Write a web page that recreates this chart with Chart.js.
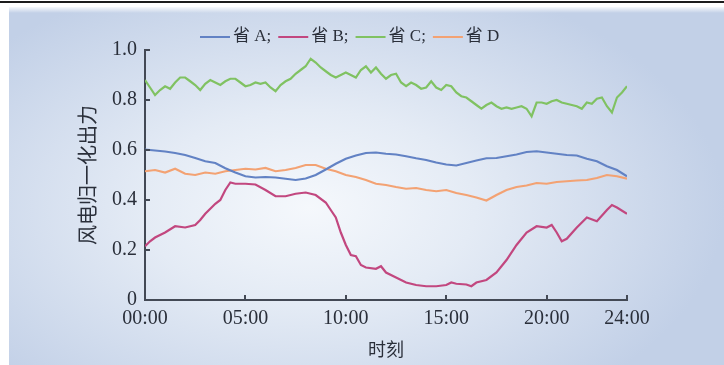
<!DOCTYPE html>
<html>
<head>
<meta charset="utf-8">
<script src="https://cdn.jsdelivr.net/npm/chart.js@4"></script>
<style>
  html, body { margin: 0; padding: 0; background: #fff; }
  #frame { position: relative; width: 724px; height: 365px; overflow: hidden; background: #fff; }
  #rule { position: absolute; left: 0; top: 1px; width: 724px; height: 2px; background: #1c1c1c; }
  #panel {
    position: absolute; left: 9px; top: 7px; right: 0; bottom: 0;
    background:
      linear-gradient(to bottom, rgba(255,255,255,0.85) 0px, rgba(255,255,255,0) 6px),
      radial-gradient(ellipse 58% 68% at 42% 56%, #f5f8fc 0%, #e4ebf5 40%, #c2d0e7 100%);
  }
  canvas { position: absolute; left: 0; top: 0; }
</style>
</head>
<body>
<div id="frame">
  <div id="rule"></div>
  <div id="panel"></div>
  <canvas id="chart" width="724" height="365"></canvas>
</div>
<script>
// Normalised wind power output of four provinces over one day (hours 0-24)
const seriesNames = ['省 A;', '省 B;', '省 C;', '省 D'];
const seriesColors = ['#6282c4', '#c2477f', '#80c262', '#f3a273'];

const hoursA = [0, 0.5, 1, 1.5, 2, 2.5, 3, 3.5, 4, 4.5, 5, 5.5, 6, 6.5, 7, 7.5, 8, 8.5, 9, 9.5, 10, 10.5, 11, 11.5, 12, 12.5, 13, 13.5, 14, 14.5, 15, 15.5, 16, 16.5, 17, 17.5, 18, 18.5, 19, 19.5, 20, 20.5, 21, 21.5, 22, 22.5, 23, 23.5, 24];
const provA = [0.602, 0.598, 0.594, 0.588, 0.58, 0.568, 0.555, 0.548, 0.527, 0.51, 0.495, 0.49, 0.492, 0.49, 0.485, 0.48, 0.486, 0.5, 0.522, 0.545, 0.565, 0.578, 0.588, 0.59, 0.585, 0.582, 0.575, 0.567, 0.56, 0.55, 0.542, 0.538, 0.548, 0.558, 0.567, 0.568, 0.575, 0.582, 0.592, 0.595, 0.59, 0.585, 0.58, 0.578, 0.565, 0.555, 0.535, 0.52, 0.495];

const hoursB = [0, 0.25, 0.5, 1, 1.5, 2, 2.5, 2.75, 3, 3.5, 3.75, 4, 4.25, 4.5, 5, 5.5, 6, 6.5, 7, 7.5, 8, 8.5, 9, 9.25, 9.5, 9.75, 10, 10.25, 10.5, 10.75, 11, 11.5, 11.75, 12, 12.5, 13, 13.5, 14, 14.5, 15, 15.25, 15.5, 16, 16.25, 16.5, 17, 17.5, 18, 18.5, 19, 19.5, 20, 20.25, 20.5, 20.75, 21, 21.5, 22, 22.5, 23, 23.25, 23.5, 24];
const provB = [0.215, 0.235, 0.25, 0.27, 0.295, 0.29, 0.3, 0.32, 0.345, 0.385, 0.4, 0.44, 0.47, 0.465, 0.465, 0.462, 0.44, 0.415, 0.415, 0.425, 0.43, 0.42, 0.39, 0.36, 0.33, 0.27, 0.22, 0.18, 0.175, 0.14, 0.13, 0.125, 0.135, 0.11, 0.09, 0.07, 0.06, 0.055, 0.055, 0.06, 0.07, 0.065, 0.062, 0.055, 0.07, 0.08, 0.11, 0.16, 0.22, 0.27, 0.295, 0.29, 0.3, 0.27, 0.235, 0.245, 0.29, 0.33, 0.315, 0.36, 0.38, 0.37, 0.345];

const hoursC = [0, 0.25, 0.5, 0.75, 1, 1.25, 1.5, 1.75, 2, 2.25, 2.5, 2.75, 3, 3.25, 3.5, 3.75, 4, 4.25, 4.5, 4.75, 5, 5.25, 5.5, 5.75, 6, 6.25, 6.5, 6.75, 7, 7.25, 7.5, 7.75, 8, 8.25, 8.5, 8.75, 9, 9.25, 9.5, 9.75, 10, 10.25, 10.5, 10.75, 11, 11.25, 11.5, 11.75, 12, 12.25, 12.5, 12.75, 13, 13.25, 13.5, 13.75, 14, 14.25, 14.5, 14.75, 15, 15.25, 15.5, 15.75, 16, 16.25, 16.5, 16.75, 17, 17.25, 17.5, 17.75, 18, 18.25, 18.5, 18.75, 19, 19.25, 19.5, 19.75, 20, 20.25, 20.5, 20.75, 21, 21.25, 21.5, 21.75, 22, 22.25, 22.5, 22.75, 23, 23.25, 23.5, 23.75, 24];
const provC = [0.88, 0.85, 0.82, 0.84, 0.855, 0.845, 0.87, 0.89, 0.89, 0.875, 0.86, 0.84, 0.865, 0.88, 0.87, 0.86, 0.875, 0.885, 0.885, 0.87, 0.855, 0.86, 0.87, 0.865, 0.87, 0.85, 0.835, 0.86, 0.875, 0.885, 0.905, 0.92, 0.935, 0.965, 0.95, 0.93, 0.915, 0.9, 0.89, 0.9, 0.91, 0.9, 0.89, 0.92, 0.935, 0.91, 0.93, 0.905, 0.885, 0.9, 0.905, 0.87, 0.855, 0.87, 0.86, 0.845, 0.85, 0.875, 0.85, 0.84, 0.86, 0.855, 0.83, 0.815, 0.81, 0.795, 0.78, 0.765, 0.78, 0.79, 0.775, 0.765, 0.77, 0.765, 0.77, 0.775, 0.765, 0.735, 0.79, 0.79, 0.785, 0.795, 0.8, 0.79, 0.785, 0.78, 0.775, 0.765, 0.79, 0.785, 0.805, 0.81, 0.775, 0.75, 0.81, 0.83, 0.855];

const hoursD = [0, 0.5, 1, 1.5, 2, 2.5, 3, 3.5, 4, 4.5, 5, 5.5, 6, 6.5, 7, 7.5, 8, 8.5, 9, 9.5, 10, 10.5, 11, 11.5, 12, 12.5, 13, 13.5, 14, 14.5, 15, 15.5, 16, 16.5, 17, 17.5, 18, 18.5, 19, 19.5, 20, 20.5, 21, 21.5, 22, 22.5, 23, 23.5, 24];
const provD = [0.515, 0.52, 0.51, 0.525, 0.505, 0.5, 0.51, 0.505, 0.515, 0.52, 0.525, 0.522, 0.528, 0.515, 0.52, 0.528, 0.54, 0.54, 0.525, 0.515, 0.5, 0.492, 0.48, 0.465, 0.46, 0.452, 0.445, 0.448, 0.44, 0.435, 0.44, 0.428, 0.42, 0.41, 0.398, 0.42, 0.44, 0.452, 0.458, 0.468, 0.465, 0.472, 0.475, 0.478, 0.48, 0.488, 0.5, 0.495, 0.485];

const xTickHours = [0, 5, 10, 15, 20, 24];
const yTickValues = [0, 0.2, 0.4, 0.6, 0.8, 1.0];

const pairs = (xs, ys) => xs.map((x, i) => ({ x: x, y: ys[i] }));
const sources = [[hoursA, provA], [hoursB, provB], [hoursC, provC], [hoursD, provD]];

const serif = '"Liberation Serif", "Noto Sans CJK SC", serif';
const axisColor = '#434955';
const textColor = '#2a2f3a';

// Inward-pointing tick marks on both axes
const innerTicks = {
  id: 'innerTicks',
  afterDraw(chart) {
    const { ctx, scales: { x, y }, chartArea } = chart;
    ctx.save();
    ctx.strokeStyle = axisColor;
    ctx.lineWidth = 2;
    ctx.beginPath();
    xTickHours.forEach(h => {
      if (h === 0) return;
      const px = Math.round(x.getPixelForValue(h));
      ctx.moveTo(px, chartArea.bottom);
      ctx.lineTo(px, chartArea.bottom - 5);
    });
    yTickValues.forEach(v => {
      if (v === 0) return;
      const py = Math.round(y.getPixelForValue(v));
      ctx.moveTo(chartArea.left, py);
      ctx.lineTo(chartArea.left + 5, py);
    });
    ctx.stroke();
    ctx.restore();
  }
};

// One-row legend with short line samples
const lineLegend = {
  id: 'lineLegend',
  afterDraw(chart) {
    const ctx = chart.ctx;
    ctx.save();
    ctx.font = '17px ' + serif;
    ctx.textBaseline = 'middle';
    let cx = 200;
    const cy = 37;
    chart.data.datasets.forEach(ds => {
      ctx.strokeStyle = ds.borderColor;
      ctx.lineWidth = 2;
      ctx.beginPath();
      ctx.moveTo(cx, cy);
      ctx.lineTo(cx + 30, cy);
      ctx.stroke();
      cx += 33;
      ctx.fillStyle = textColor;
      ctx.fillText(ds.label, cx, cy);
      cx += ctx.measureText(ds.label).width + 7;
    });
    ctx.restore();
  }
};

new Chart(document.getElementById('chart'), {
  type: 'line',
  data: {
    datasets: seriesNames.map((name, i) => ({
      label: name,
      data: pairs(sources[i][0], sources[i][1]),
      borderColor: seriesColors[i],
      backgroundColor: seriesColors[i],
      borderWidth: 2.2,
      pointRadius: 0,
      tension: 0,
      fill: false
    }))
  },
  options: {
    responsive: false,
    animation: false,
    layout: { padding: { left: 0, top: 50, right: 97, bottom: 0 } },
    plugins: { legend: { display: false }, tooltip: { enabled: false } },
    scales: {
      x: {
        type: 'linear',
        min: 0,
        max: 24,
        afterBuildTicks: s => { s.ticks = xTickHours.map(v => ({ value: v })); },
        afterFit: s => { s.height = 65; },
        grid: { display: false, drawTicks: false },
        border: { display: true, color: axisColor, width: 2 },
        ticks: {
          padding: 7,
          color: textColor,
          font: { family: serif, size: 20 },
          maxRotation: 0,
          autoSkip: false,
          callback: v => String(v).padStart(2, '0') + ':00'
        },
        title: {
          display: true,
          text: '时刻',
          color: textColor,
          font: { family: serif, size: 18 },
          padding: { top: 0, bottom: 3 }
        }
      },
      y: {
        min: 0,
        max: 1,
        afterBuildTicks: s => { s.ticks = yTickValues.map(v => ({ value: v })); },
        afterFit: s => { s.width = 145; },
        grid: { display: false, drawTicks: false },
        border: { display: true, color: axisColor, width: 2 },
        ticks: {
          padding: 8,
          color: textColor,
          font: { family: serif, size: 20 },
          callback: v => (v === 0 ? '0' : v.toFixed(1))
        },
        title: {
          display: true,
          text: '风电归一化出力',
          color: textColor,
          font: { family: serif, size: 20 },
          padding: { top: 78, bottom: 0 }
        }
      }
    }
  },
  plugins: [innerTicks, lineLegend]
});
</script>
</body>
</html>
